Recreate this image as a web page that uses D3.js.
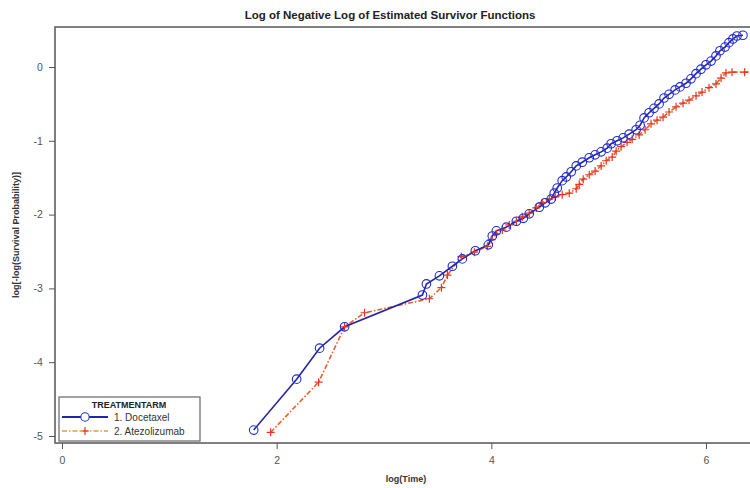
<!DOCTYPE html>
<html><head><meta charset="utf-8">
<script src="https://cdn.jsdelivr.net/npm/d3@7"></script>
<style>body{margin:0;background:#fff}svg{display:block}text{font-family:"Liberation Sans",Arial,sans-serif}</style>
</head><body>
<svg id="c" width="750" height="488"></svg>
<script>
const title = "Log of Negative Log of Estimated Survivor Functions";
const xLabel = "log(Time)";
const yLabel = "log[-log(Survival Probability)]";
const seriesNames = ["1. Docetaxel", "2. Atezolizumab"];
const legendTitle = "TREATMENTARM";
const xTicks = [0, 2, 4, 6];
const yTicks = [0, -1, -2, -3, -4, -5];

const docetaxelX = [1.786,2.186,2.400,2.633,3.358,3.395,3.516,3.637,3.730,3.851,3.972,4.009,4.047,4.140,4.233,4.298,4.353,4.447,4.502,4.558,4.586,4.614,4.660,4.698,4.744,4.791,4.847,4.912,4.967,5.023,5.079,5.116,5.172,5.228,5.284,5.349,5.386,5.423,5.470,5.516,5.563,5.609,5.656,5.712,5.758,5.814,5.860,5.907,5.953,6.000,6.047,6.093,6.130,6.177,6.214,6.251,6.288,6.344];
const docetaxelY = [-4.92,-4.23,-3.81,-3.52,-3.09,-2.94,-2.83,-2.70,-2.60,-2.49,-2.41,-2.29,-2.22,-2.17,-2.09,-2.05,-1.99,-1.90,-1.84,-1.79,-1.71,-1.64,-1.54,-1.49,-1.42,-1.34,-1.29,-1.23,-1.19,-1.15,-1.10,-1.04,-1.00,-0.96,-0.91,-0.85,-0.79,-0.69,-0.62,-0.56,-0.50,-0.42,-0.37,-0.31,-0.27,-0.22,-0.16,-0.09,-0.03,0.03,0.08,0.15,0.22,0.27,0.33,0.38,0.42,0.43];

const atezoX = [1.944,2.391,2.633,2.819,3.423,3.535,3.591,3.721,3.842,3.963,4.000,4.047,4.102,4.167,4.233,4.288,4.353,4.419,4.474,4.540,4.595,4.660,4.726,4.791,4.819,4.856,4.912,4.967,5.023,5.070,5.126,5.163,5.209,5.265,5.312,5.377,5.433,5.488,5.544,5.600,5.656,5.721,5.786,5.842,5.907,5.963,6.028,6.093,6.140,6.186,6.242,6.360,6.480];
const atezoY = [-4.95,-4.27,-3.52,-3.33,-3.14,-2.99,-2.82,-2.57,-2.51,-2.43,-2.34,-2.26,-2.21,-2.14,-2.09,-2.03,-1.98,-1.91,-1.84,-1.79,-1.76,-1.73,-1.71,-1.65,-1.59,-1.52,-1.46,-1.41,-1.34,-1.27,-1.22,-1.14,-1.08,-1.02,-0.98,-0.92,-0.85,-0.77,-0.72,-0.68,-0.61,-0.54,-0.49,-0.45,-0.39,-0.34,-0.28,-0.23,-0.15,-0.08,-0.07,-0.07,-0.07];

const svg = d3.select("#c");
const L = 55, T = 27, R = 760, B = 443;
const x = d3.scaleLinear().domain([0, 6]).range([62, 706]);
const y = d3.scaleLinear().domain([0, -5]).range([67, 436]);

svg.append("text").attr("x", 390).attr("y", 19).attr("text-anchor", "middle")
  .attr("font-size", 11.5).attr("font-weight", "bold").attr("fill", "#222").text(title);

svg.append("defs").append("clipPath").attr("id", "clip")
  .append("rect").attr("x", L).attr("y", T).attr("width", R - L).attr("height", B - T);

// frame
svg.append("rect").attr("x", L).attr("y", T).attr("width", R - L).attr("height", B - T)
  .attr("fill", "none").attr("stroke", "#555").attr("stroke-width", 1.5);

// axes
const fmt = d => String(d);
const xAxis = d3.axisBottom(x).tickValues(xTicks).tickSize(6).tickSizeOuter(0).tickFormat(fmt);
const gx = svg.append("g").attr("transform", `translate(0,${B})`).call(xAxis);
gx.select(".domain").remove();
gx.selectAll("line").attr("stroke", "#555");
gx.selectAll("text").attr("font-size", 10.5).attr("fill", "#555").attr("dy", "1.1em");

const yAxis = d3.axisLeft(y).tickValues(yTicks).tickSize(6).tickSizeOuter(0).tickFormat(fmt);
const gy = svg.append("g").attr("transform", `translate(${L},0)`).call(yAxis);
gy.select(".domain").remove();
gy.selectAll("line").attr("stroke", "#555");
gy.selectAll("text").attr("font-size", 10.5).attr("fill", "#555").attr("dx", "-0.3em");

svg.append("text").attr("x", 406).attr("y", 482).attr("text-anchor", "middle")
  .attr("font-size", 9).attr("font-weight", "bold").attr("fill", "#333").text(xLabel);
svg.append("text").attr("transform", "translate(19,235) rotate(-90)").attr("text-anchor", "middle")
  .attr("font-size", 9).attr("font-weight", "bold").attr("fill", "#333").text(yLabel);

const plot = svg.append("g").attr("clip-path", "url(#clip)");
const line = d3.line().x(d => x(d[0])).y(d => y(d[1]));
const blue = docetaxelX.map((v, i) => [v, docetaxelY[i]]);
const red = atezoX.map((v, i) => [v, atezoY[i]]);

const redColor = "#e8351f", blueColor = "#1f2bd0";
plot.append("path").datum(red).attr("d", line).attr("fill", "none")
  .attr("stroke", "#e8602a").attr("stroke-width", 1.6).attr("stroke-dasharray", "5,2,1.5,2");
plot.append("path").datum(blue).attr("d", line).attr("fill", "none")
  .attr("stroke", "#2424a8").attr("stroke-width", 1.6);

const plus = 4;
plot.selectAll(".pr").data(red).enter().append("path")
  .attr("d", d => `M${x(d[0]) - plus},${y(d[1])}h${2 * plus}M${x(d[0])},${y(d[1]) - plus}v${2 * plus}`)
  .attr("stroke", redColor).attr("stroke-width", 1.2).attr("fill", "none");
plot.selectAll(".cb").data(blue).enter().append("circle")
  .attr("cx", d => x(d[0])).attr("cy", d => y(d[1])).attr("r", 4.3)
  .attr("fill", "none").attr("stroke", blueColor).attr("stroke-width", 1.1);

// legend
const lg = svg.append("g");
lg.append("rect").attr("x", 59).attr("y", 397).attr("width", 141).attr("height", 44)
  .attr("fill", "#fff").attr("stroke", "#666").attr("stroke-width", 1.2);
lg.append("text").attr("x", 129).attr("y", 408).attr("text-anchor", "middle")
  .attr("font-size", 9).attr("font-weight", "bold").attr("fill", "#222").text(legendTitle);
lg.append("line").attr("x1", 62).attr("x2", 108).attr("y1", 417).attr("y2", 417)
  .attr("stroke", "#2424a8").attr("stroke-width", 1.8);
lg.append("circle").attr("cx", 85).attr("cy", 417).attr("r", 4.2).attr("fill", "#fff")
  .attr("stroke", blueColor).attr("stroke-width", 1.1);
lg.append("text").attr("x", 114).attr("y", 420.5).attr("font-size", 10).attr("fill", "#333").text(seriesNames[0]);
lg.append("line").attr("x1", 62).attr("x2", 108).attr("y1", 431).attr("y2", 431)
  .attr("stroke", "#e0a030").attr("stroke-width", 1.6).attr("stroke-dasharray", "5,2,1.5,2");
lg.append("path").attr("d", `M${85 - plus},431h${2 * plus}M85,${431 - plus}v${2 * plus}`)
  .attr("stroke", redColor).attr("stroke-width", 1.2);
lg.append("text").attr("x", 114).attr("y", 434.5).attr("font-size", 10).attr("fill", "#333").text(seriesNames[1]);
</script>
</body></html>
